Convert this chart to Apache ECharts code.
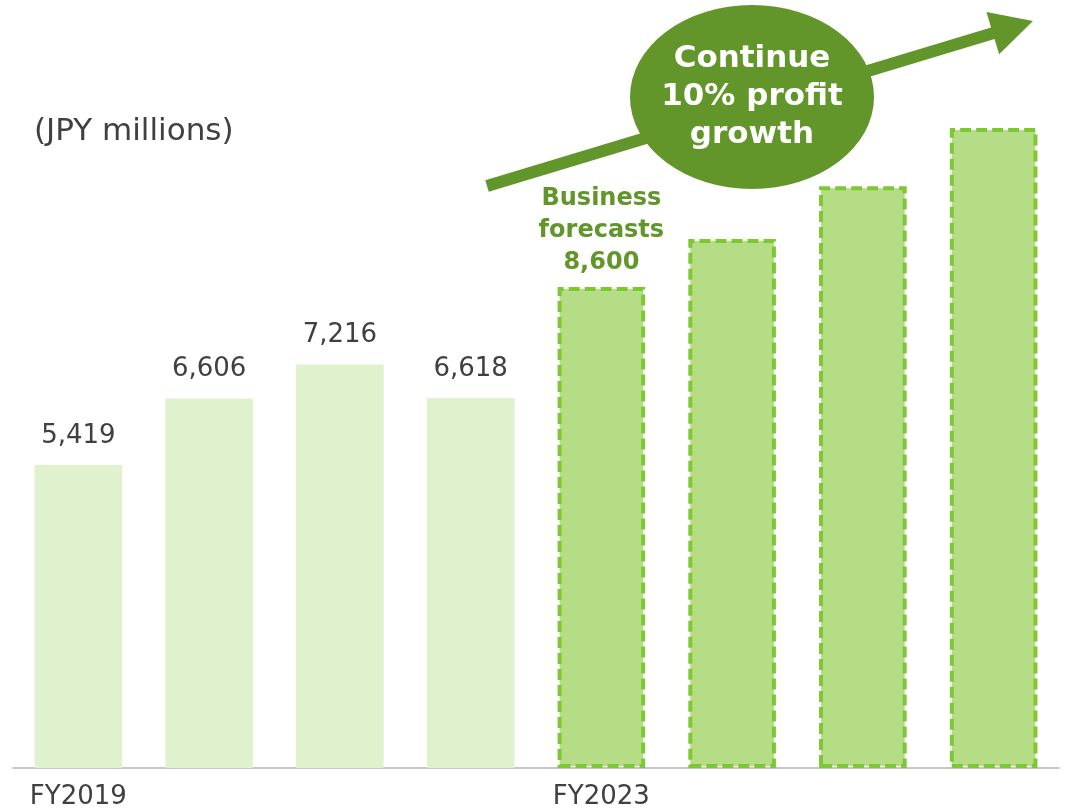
<!DOCTYPE html>
<html>
<head>
<meta charset="utf-8">
<style>
  html, body { margin: 0; padding: 0; background: #ffffff; }
  #chart { width: 1076px; height: 808px; }
</style>
<script src="https://cdn.jsdelivr.net/npm/echarts@6/dist/echarts.min.js"></script>
</head>
<body>
<div id="chart"></div>
<script>
// Fiscal years on the category axis
const fiscalYears = ['FY2019', 'FY2020', 'FY2021', 'FY2022', 'FY2023', 'FY2024', 'FY2025', 'FY2026'];
// Only these years get a tick label
const shownYearLabels = ['FY2019', 'FY2023'];
// Results (JPY millions)
const actualProfit = [5419, 6606, 7216, 6618];
// Plan: business forecast, then continued ~10% growth
const plannedProfit = [8600, 9460, 10406, 11447];

const unitText = '(JPY millions)';
const forecastCaption = ['Business', 'forecasts'];
const growthMessage = ['Continue', '10% profit', 'growth'];

const GREEN = '#62962a';
const TEXT = '#404040';
const FONT = '"DejaVu Sans", Verdana, sans-serif';

const fmt = v => v.toLocaleString('en-US');

const barData = [];
actualProfit.forEach(v => {
  barData.push({
    value: v,
    itemStyle: { color: '#e0f1cd' },
    label: { show: true, formatter: p => fmt(p.value) }
  });
});
plannedProfit.forEach((v, i) => {
  barData.push({
    value: v,
    itemStyle: {
      color: '#b4dd85',
      borderColor: '#7dc734',
      borderWidth: 4,
      borderType: [11, 5]
    },
    label: i === 0 ? {
      show: true,
      distance: 8,
      color: GREEN,
      fontWeight: 'bold',
      fontSize: 24,
      lineHeight: 32,
      formatter: p => forecastCaption.join('\n') + '\n' + fmt(p.value)
    } : { show: false }
  });
});

// Growth arrow as a polygon (shaft + head)
function arrowPoints(x0, y0, x1, y1, halfShaft, headLen, headHalf) {
  const dx = x1 - x0, dy = y1 - y0;
  const len = Math.hypot(dx, dy);
  const ux = dx / len, uy = dy / len;
  const nx = -uy, ny = ux;
  const bx = x1 - ux * headLen, by = y1 - uy * headLen;
  return [
    [x0 + nx * halfShaft, y0 + ny * halfShaft],
    [bx + nx * halfShaft, by + ny * halfShaft],
    [bx + nx * headHalf, by + ny * headHalf],
    [x1, y1],
    [bx - nx * headHalf, by - ny * headHalf],
    [bx - nx * halfShaft, by - ny * halfShaft],
    [x0 - nx * halfShaft, y0 - ny * halfShaft]
  ];
}

const chart = echarts.init(document.getElementById('chart'));
chart.setOption({
  animation: false,
  backgroundColor: '#ffffff',
  textStyle: { fontFamily: FONT },
  title: {
    text: unitText,
    left: 29,
    top: 111,
    textStyle: { fontFamily: FONT, fontSize: 31, fontWeight: 'normal', color: TEXT }
  },
  grid: {
    left: 13, right: 17, top: 97, bottom: 40,
    containLabel: false,
    outerBoundsMode: 'none'
  },
  xAxis: {
    type: 'category',
    data: fiscalYears,
    axisLine: { lineStyle: { color: '#c6c6c6', width: 2 } },
    axisTick: { show: false },
    axisLabel: {
      interval: 0,
      margin: 16,
      color: TEXT,
      fontSize: 26,
      fontFamily: FONT,
      formatter: v => (shownYearLabels.includes(v) ? v : '')
    }
  },
  yAxis: {
    type: 'value',
    min: 0,
    max: 12000,
    show: false,
    splitLine: { show: false }
  },
  series: [{
    type: 'bar',
    data: barData,
    barCategoryGap: '33%',
    label: {
      position: 'top',
      distance: 16,
      color: TEXT,
      fontSize: 26,
      fontFamily: FONT
    }
  }],
  graphic: [
    {
      type: 'polygon',
      shape: { points: arrowPoints(487, 186, 1033, 21, 6, 42, 22) },
      style: { fill: GREEN },
      z: 10
    },
    {
      type: 'circle',
      shape: { cx: 0, cy: 0, r: 92 },
      x: 752,
      y: 97,
      scaleX: 122 / 92,
      style: { fill: GREEN },
      z: 11
    },
    {
      type: 'text',
      x: 752,
      y: 97,
      style: {
        text: growthMessage.join('\n'),
        fill: '#ffffff',
        font: 'bold 31px ' + FONT,
        lineHeight: 38,
        align: 'center',
        verticalAlign: 'middle'
      },
      z: 12
    }
  ]
});
</script>
</body>
</html>
